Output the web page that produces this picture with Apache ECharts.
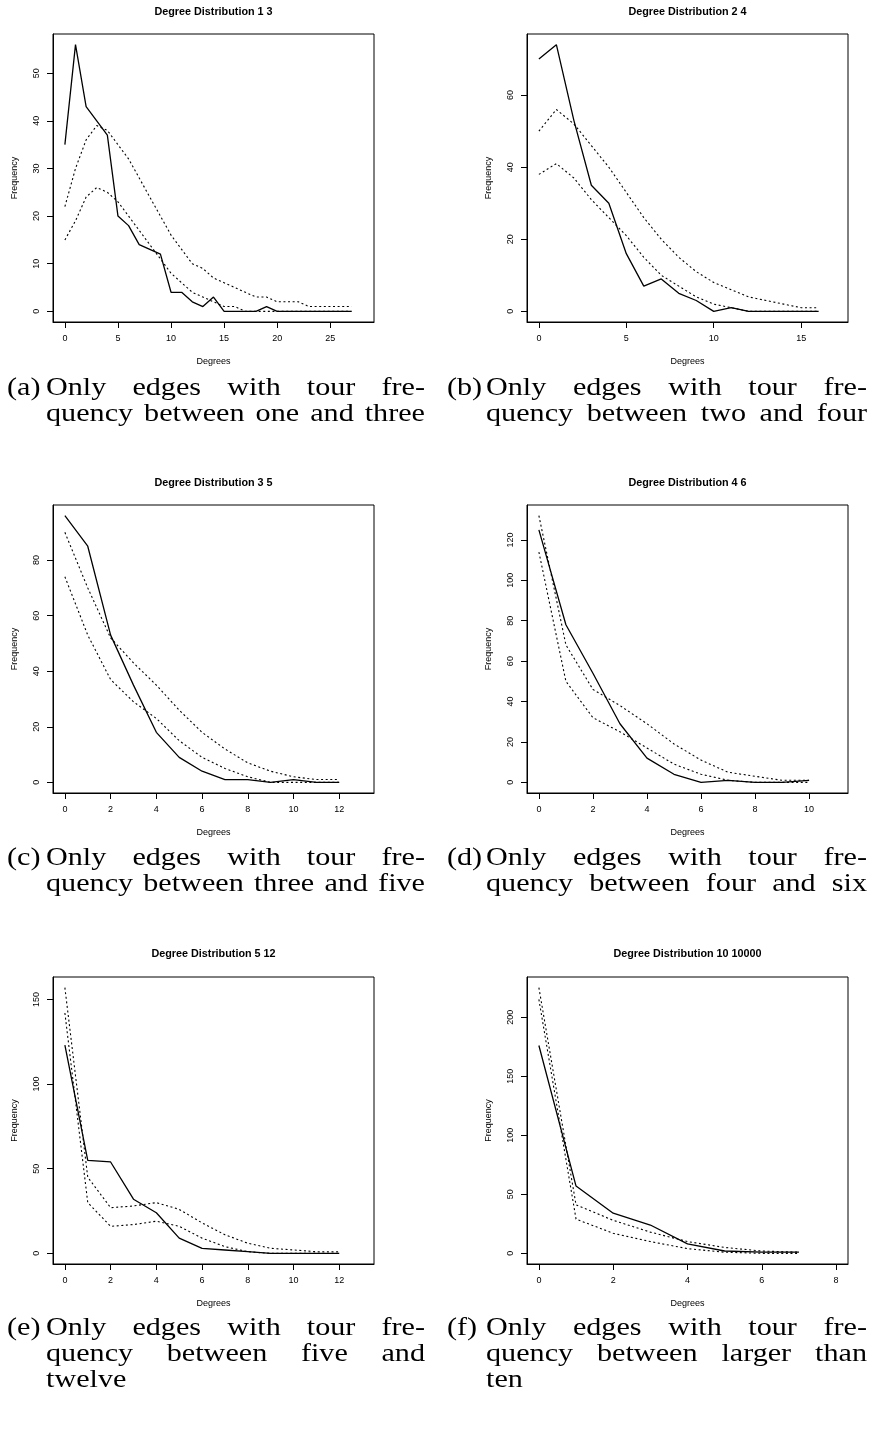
<!DOCTYPE html>
<html><head><meta charset="utf-8">
<script src="https://cdn.jsdelivr.net/npm/echarts@6/dist/echarts.min.js"></script>
<style>html,body{margin:0;padding:0;background:#fff}#chart{width:872px;height:1429px}</style>
</head><body><div id="chart"></div>
<script>
// ---------- data ----------
const titles = ['Degree Distribution 1 3','Degree Distribution 2 4','Degree Distribution 3 5','Degree Distribution 4 6','Degree Distribution 5 12','Degree Distribution 10 10000'];

const obs13 = [35,56,43,40,37,20,18,14,13,12,4,4,2,1,3,0,0,0,0,1,0,0,0,0,0,0,0,0];
const up13  = [22,30,36,39,38,35,32,28,24,20,16,13,10,9,7,6,5,4,3,3,2,2,2,1,1,1,1,1];
const lo13  = [15,19,24,26,25,23,20,17,14,11,8,6,4,3,2,1,1,0,0,0,0,0,0,0,0,0,0,0];

const obs24 = [70,74,53,35,30,16,7,9,5,3,0,1,0,0,0,0,0];
const up24  = [50,56,52,46,40,33,26,20,15,11,8,6,4,3,2,1,1];
const lo24  = [38,41,37,31,26,21,15,10,7,4,2,1,0,0,0,0,0];

const obs35 = [96,85,53,35,18,9,4,1,1,0,1,0,0];
const up35  = [90,70,52,43,35,26,18,12,7,4,2,1,1];
const lo35  = [74,53,37,29,23,15,9,5,2,0,0,0,0];

const obs46 = [125,78,54,29,12,4,0,1,0,0,1];
const up46  = [132,68,46,38,29,19,11,5,3,1,1];
const lo46  = [114,50,32,25,17,9,4,1,0,0,0];

const obs512 = [123,55,54,32,24,9,3,2,1,0,0,0,0];
const up512  = [157,45,27,28,30,26,18,11,6,3,2,1,1];
const lo512  = [142,30,16,17,19,16,9,4,1,0,0,0,0];

const obs10k = [176,57,34,24,8,2,1,1];
const up10k  = [225,41,28,18,10,5,2,1];
const lo10k  = [215,29,17,10,4,1,0,0];

const xTicks = [[0,5,10,15,20,25],[0,5,10,15],[0,2,4,6,8,10,12],[0,2,4,6,8,10],[0,2,4,6,8,10,12],[0,2,4,6,8]];
const yTicks = [[0,10,20,30,40,50],[0,20,40,60],[0,20,40,60,80],[0,20,40,60,80,100,120],[0,50,100,150],[0,50,100,150,200]];

const capLabels = ['(a)','(b)','(c)','(d)','(e)','(f)'];
const capLines = [
  ['Only edges with tour fre-','quency between one and three'],
  ['Only edges with tour fre-','quency between two and four'],
  ['Only edges with tour fre-','quency between three and five'],
  ['Only edges with tour fre-','quency between four and six'],
  ['Only edges with tour fre-','quency between five and','twelve'],
  ['Only edges with tour fre-','quency between larger than','ten']
];

const panelSeries = [[obs13,up13,lo13],[obs24,up24,lo24],[obs35,up35,lo35],[obs46,up46,lo46],[obs512,up512,lo512],[obs10k,up10k,lo10k]];

// ---------- layout ----------
const boxes = [
  {left:53, top:34, width:321, height:288},
  {left:527, top:34, width:321, height:288},
  {left:53, top:505, width:321, height:288},
  {left:527, top:505, width:321, height:288},
  {left:53, top:977, width:321, height:287},
  {left:527, top:977, width:321, height:287}
];
const titleTops = [7, 7, 478, 478, 949, 949];
const capRowY = [[388,414],[388,414],[858,884],[858,884],[1328,1354,1380],[1328,1354,1380]];

const sans = 'Liberation Sans, Arial, Helvetica, sans-serif';
const grid = [], xAxis = [], yAxis = [], series = [], title = [];

panelSeries.forEach((ps, i) => {
  const b = boxes[i];
  grid.push({left:b.left, top:b.top, width:b.width, height:b.height, show:true, borderColor:'#000', borderWidth:1, backgroundColor:'transparent', containLabel:false});
  const n = ps[0].length;
  const ymax = Math.max(...ps.flat());
  xAxis.push({
    type:'value', gridIndex:i, min:-0.04*n, max:1.04*n,
    axisLine:{show:true, onZero:false, lineStyle:{color:'#000', width:1}},
    axisTick:{show:true, length:6, customValues:xTicks[i], lineStyle:{color:'#000', width:1}},
    axisLabel:{show:true, customValues:xTicks[i], margin:12, fontSize:9, color:'#000', fontFamily:sans},
    splitLine:{show:false},
    name:'Degrees', nameLocation:'middle', nameGap:35,
    nameTextStyle:{fontSize:9, color:'#000', fontFamily:sans}
  });
  yAxis.push({
    type:'value', gridIndex:i, min:-0.04*ymax, max:1.04*ymax,
    axisLine:{show:true, onZero:false, lineStyle:{color:'#000', width:1}},
    axisTick:{show:true, length:6, customValues:yTicks[i], lineStyle:{color:'#000', width:1}},
    axisLabel:{show:true, customValues:yTicks[i], margin:12, rotate:90, fontSize:9, color:'#000', fontFamily:sans},
    splitLine:{show:false},
    name:'Frequency', nameLocation:'middle', nameGap:34,
    nameTextStyle:{fontSize:9, color:'#000', fontFamily:sans}
  });
  ps.forEach((arr, k) => {
    series.push({
      type:'line', xAxisIndex:i, yAxisIndex:i, symbol:'none', silent:true,
      data: arr.map((v, d) => [d, v]),
      lineStyle: k === 0 ? {color:'#000', width:1.3, type:'solid'} : {color:'#000', width:1.1, type:[2,2.6]}
    });
  });
  title.push({
    text:titles[i], left:b.left + b.width/2, top:titleTops[i], textAlign:'center', padding:0,
    textStyle:{fontSize:10.8, fontWeight:'bold', color:'#000', fontFamily:sans}
  });
});

// ---------- captions (serif, justified) ----------
const capFont = 26, capSX = 1.16;
const capFamily = '"Liberation Serif", "Times New Roman", serif';
const mctx = document.createElement('canvas').getContext('2d');
mctx.font = capFont + 'px ' + capFamily;
const graphic = [];
function addText(txt, x, y) {
  graphic.push({type:'text', x:x, y:y, scaleX:capSX, silent:true,
    style:{text:txt, x:0, y:0, fill:'#000', font:capFont + 'px ' + capFamily, align:'left', verticalAlign:'middle'}});
}
function addLine(txt, x0, x1, y, justify) {
  const words = txt.split(' ');
  const w = words.map(s => mctx.measureText(s).width * capSX);
  const tot = w.reduce((a, c) => a + c, 0);
  let gap = mctx.measureText(' ').width * capSX * 1.3;
  if (justify && words.length > 1) gap = Math.max(gap, (x1 - x0 - tot) / (words.length - 1));
  let x = x0;
  words.forEach((s, j) => { addText(s, x, y); x += w[j] + gap; });
}
capLines.forEach((lines, i) => {
  const right = i % 2 === 1;
  const lx = right ? 447 : 7, x0 = right ? 486 : 46, x1 = right ? 867 : 425;
  addText(capLabels[i], lx, capRowY[i][0]);
  lines.forEach((ln, j) => {
    const isLastShort = (j === lines.length - 1) && lines.length === 3;
    addLine(ln, x0, x1, capRowY[i][j], !isLastShort);
  });
});

const chart = echarts.init(document.getElementById('chart'), null, {renderer:'canvas'});
chart.setOption({animation:false, backgroundColor:'#fff', title, grid, xAxis, yAxis, series, graphic});
</script></body></html>
